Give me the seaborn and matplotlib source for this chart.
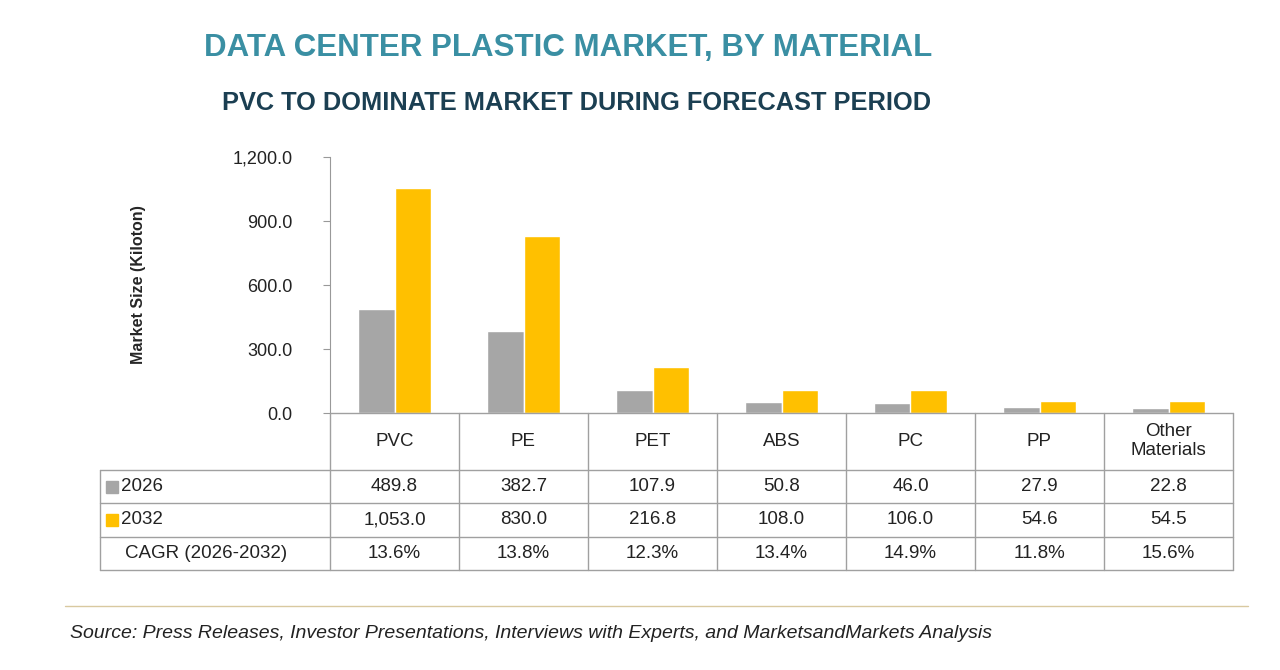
import numpy as np
import pandas as pd
import matplotlib
matplotlib.use("Agg")
import matplotlib.pyplot as plt
import seaborn as sns
from matplotlib.lines import Line2D
from matplotlib.patches import Rectangle

materials = ['PVC', 'PE', 'PET', 'ABS', 'PC', 'PP', 'Other\nMaterials']
values_2026 = [489.8, 382.7, 107.9, 50.8, 46.0, 27.9, 22.8]
values_2032 = [1053.0, 830.0, 216.8, 108.0, 106.0, 54.6, 54.5]
cagr = ['13.6%', '13.8%', '12.3%', '13.4%', '14.9%', '11.8%', '15.6%']
years = ['2026', '2032']
colors = {'2026': '#a6a6a6', '2032': '#ffc000'}

df = pd.DataFrame({
    'material': materials * 2,
    'year': ['2026'] * 7 + ['2032'] * 7,
    'value': values_2026 + values_2032,
})

sns.set_style('white')
plt.rcParams['font.family'] = ['Liberation Sans', 'DejaVu Sans']

W, H = 1280, 670
fig = plt.figure(figsize=(12.8, 6.7), dpi=100)

x0, x1 = 330, 1233
y0, ytop = 413, 157
ax = fig.add_axes([x0 / W, 1 - y0 / H, (x1 - x0) / W, (y0 - ytop) / H])
sns.barplot(data=df, x='material', y='value', hue='year', palette=colors,
            width=0.56, gap=0, ax=ax, legend=False, saturation=1)
ax.set_xlim(-0.5, 6.5)
ax.set_ylim(0, 1200)
ax.set_yticks([0, 300, 600, 900, 1200])
ax.set_yticklabels(['0.0', '300.0', '600.0', '900.0', '1,200.0'], fontsize=13, color='#222222')
ax.set_xticks([])
ax.set_xlabel('')
ax.set_ylabel('Market Size (Kiloton)', fontsize=11.5, fontweight='bold', labelpad=62)
for s in ['top', 'right', 'bottom']:
    ax.spines[s].set_visible(False)
ax.spines['left'].set_color('#999999')
ax.tick_params(axis='y', length=5, color='#999999', left=True, pad=22)

# table
line_c = '#a0a0a0'
col_w = (x1 - x0) / 7
rows = [413, 470, 503, 537, 570]
tl = 100

def hline(y, xa, xb):
    fig.add_artist(Line2D([xa / W, xb / W], [1 - y / H, 1 - y / H], color=line_c, lw=1))

def vline(x, ya, yb):
    fig.add_artist(Line2D([x / W, x / W], [1 - ya / H, 1 - yb / H], color=line_c, lw=1))

hline(413, x0, x1)
for y in rows[1:]:
    hline(y, tl, x1)
for k in range(8):
    vline(x0 + k * col_w, 413, 570)
vline(tl, 470, 570)

for k, m in enumerate(materials):
    cx = (x0 + (k + 0.5) * col_w) / W
    fig.text(cx, 1 - 441 / H, m, ha='center', va='center', fontsize=13.5, color='#222222')
    for r, txt in enumerate([f'{values_2026[k]:,.1f}', f'{values_2032[k]:,.1f}', cagr[k]]):
        cy = 1 - (rows[r + 1] + rows[r + 2]) / 2 / H
        fig.text(cx, cy, txt, ha='center', va='center', fontsize=13.5, color='#222222')

for r, yr in enumerate(years):
    cy = (rows[r + 1] + rows[r + 2]) / 2
    fig.add_artist(Rectangle(((tl + 6) / W, 1 - (cy + 6) / H), 12 / W, 12 / H,
                             color=colors[yr], transform=fig.transFigure))
    fig.text((tl + 21) / W, 1 - cy / H, yr, ha='left', va='center', fontsize=13.5, color='#222222')
fig.text((tl + 25) / W, 1 - 553.5 / H, 'CAGR (2026-2032)', ha='left', va='center',
         fontsize=13.5, color='#222222')

fig.text(568 / W, 1 - 48 / H, 'DATA CENTER PLASTIC MARKET, BY MATERIAL', ha='center',
         va='center', fontsize=22.5, fontweight='bold', color='#3a8fa3')
fig.text(577 / W, 1 - 103 / H, 'PVC TO DOMINATE MARKET DURING FORECAST PERIOD', ha='center',
         va='center', fontsize=18.3, fontweight='bold', color='#1b3f52')

fig.add_artist(Line2D([65 / W, 1248 / W], [1 - 606 / H, 1 - 606 / H], color='#d9c9a0', lw=1))
fig.text(70 / W, 1 - 633 / H, 'Source: Press Releases, Investor Presentations, Interviews with Experts, '
         'and MarketsandMarkets Analysis', ha='left', va='center', fontsize=14,
         style='italic', color='#222222')

fig.savefig('out.png', dpi=100)
